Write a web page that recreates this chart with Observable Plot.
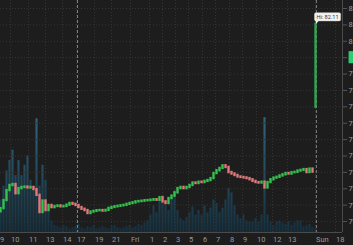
<!DOCTYPE html>
<html>
<head>
<meta charset="utf-8">
<script src="https://cdn.jsdelivr.net/npm/d3@7"></script>
<script src="https://cdn.jsdelivr.net/npm/@observablehq/plot@0.6"></script>
<style>
  html, body { margin: 0; padding: 0; background: #1d1d1d; }
  #chart { position: relative; width: 353px; height: 245px; overflow: hidden; background: #1d1d1d; }
  #chart svg { position: absolute; left: 0; top: 0; }
</style>
</head>
<body>
<div id="chart"></div>
<script>
// ---- data ----
const firstOpen = 70.6;
const closes = [
  70.79, 71.28, 71.89, 72.20, 72.26, 71.70, 72.01, 72.08, 72.10, 72.05,
  72.08, 71.95, 71.60, 70.55, 71.25, 70.67, 70.98, 70.85, 70.92, 70.95,
  70.90, 70.92, 71.00, 71.10, 71.05, 70.98, 70.85, 70.75, 70.67, 70.49,
  70.58, 70.62, 70.66, 70.67, 70.64, 70.68, 70.80, 70.86, 70.90, 70.93,
  70.96, 70.99, 71.05, 71.10, 71.14, 71.20, 71.22, 71.24, 71.27, 71.28,
  71.30, 71.33, 71.30, 71.45, 71.20, 71.10, 71.40, 71.55, 71.75, 72.01,
  72.08, 72.01, 72.08, 72.20, 72.35, 72.32, 72.40, 72.38, 72.45, 72.50,
  72.62, 72.93, 73.10, 73.24, 73.40, 73.30, 72.99, 72.90, 72.81, 72.72,
  72.69, 72.66, 72.62, 72.55, 72.45, 72.38, 72.35, 72.40, 72.05, 72.38,
  72.55, 72.65, 72.70, 72.78, 72.85, 72.93, 72.90, 72.98, 73.00, 73.08,
  73.12, 73.17, 72.99, 73.20, 73.02
];
const sundayOpen = 76.9;
const sundayHigh = 82.11;
const volumes = [
  28, 40, 53, 62, 71, 49, 62, 49, 58, 66, 45, 36, 98, 40, 58, 45, 23, 10,
  6, 5, 4, 6, 5, 3, 4, 5, 7, 4, 3, 5, 4, 6, 3, 4, 5, 4, 3, 5, 6, 4, 3, 4, 5, 6, 4, 5, 7, 6, 8, 10,
  15, 23, 17, 28, 32, 23, 19, 28, 36, 19,
  12, 10, 13, 17, 22, 15, 19, 15, 23, 17,
  21, 28, 25, 17, 21, 28, 38, 34, 23, 15,
  12, 15, 10, 9, 9, 12, 9, 15, 99, 15,
  9, 6, 9, 10, 8, 7, 9, 6, 8, 10,
  10, 5, 6, 7, 4, 3
];
const tickBars   = [-0.33, 3.33, 9.33, 15, 20.67, 25.33, 31.33, 37, 43.33, 49.67, 54, 58.33, 62.67, 67.33, 71.67, 76.33, 80.67, 85.33, 90.67, 95.67, 105, 111.67];
const tickLabels = ["9", "10", "11", "13", "14", "17", "19", "21", "Fri", "1", "2", "3", "5", "6", "7", "8", "9", "10", "12", "13", "Sun", "18"];
const priceTicks = [70, 71, 72, 73, 74, 75, 76, 77, 78, 79, 80, 81, 82, 83];
const sessionBreaks = [25.67, 105.3];
const lastPrice = 80.0;

// ---- derived tables ----
const candles = closes.map((c, i) => ({ i, open: i === 0 ? firstOpen : closes[i - 1], close: c }));
const bigBar = { i: closes.length, open: sundayOpen, close: sundayHigh };
const vol = volumes.map((v, i) => ({ i, v }));
const labelMap = new Map(tickBars.map((t, k) => [t, tickLabels[k]]));

const W = 353, H = 245;
const margins = { marginLeft: 0, marginRight: 11, marginTop: 0, marginBottom: 13 };
const xDomain = [0, 114];
const yDomain = [69.33, 83.49];
const GREEN = "#35c24f", RED = "#e07a7a";
const font = "Roboto, 'DejaVu Sans', sans-serif";

// volume layer (underneath)
const volPlot = Plot.plot({
  width: W, height: H, ...margins,
  style: { background: "transparent", fontFamily: font },
  x: { domain: xDomain, axis: null, label: null },
  y: { domain: [0, 200], axis: null, label: null },
  marks: [
    Plot.ruleX(vol, { x: "i", y1: 0, y2: "v", stroke: "#2a6a86", strokeWidth: 2.1 })
  ]
});
const ns = "http://www.w3.org/2000/svg";
const defs = document.createElementNS(ns, "defs");
defs.innerHTML = '<linearGradient id="vg" gradientUnits="userSpaceOnUse" x1="0" y1="110" x2="0" y2="232">' +
  '<stop offset="0" stop-color="#30687f"/><stop offset="1" stop-color="#15303f"/></linearGradient>';
volPlot.insertBefore(defs, volPlot.firstChild);
volPlot.querySelectorAll('g[aria-label="rule"]').forEach(g => g.setAttribute("stroke", "url(#vg)"));

// price layer
const marks = [
  Plot.gridY(priceTicks, { stroke: "#343434", strokeOpacity: 1, strokeDasharray: "1,2" }),
  Plot.gridX(tickBars, { stroke: "#343434", strokeOpacity: 1, strokeDasharray: "1,2" }),
  Plot.ruleX(sessionBreaks, { stroke: "#808080", strokeDasharray: "3,2", strokeWidth: 1 }),
  Plot.ruleY([yDomain[0]], { stroke: "#4a4a4a" }),
  Plot.ruleX([xDomain[1]], { stroke: "#4a4a4a" }),
  Plot.ruleX(candles, {
    x: "i", y1: "open", y2: "close",
    stroke: d => d.close >= d.open ? GREEN : RED,
    strokeWidth: 2.4, strokeLinecap: "square"
  }),
  Plot.ruleX([bigBar], { x: "i", y1: "open", y2: "close", stroke: "#2fa552", strokeWidth: 2.4 }),
  Plot.axisY(priceTicks, {
    anchor: "right", tickSize: 4, tickPadding: 2, fontSize: 7.5, label: null,
    tickFormat: d3.format(".2f"), stroke: "#555", fill: "#9a9a9a"
  }),
  Plot.axisX(tickBars, {
    anchor: "bottom", tickSize: 0, tickPadding: 4, fontSize: 7.5, textAnchor: "start", dx: 0.5, label: null,
    tickFormat: d => labelMap.get(d), fill: "#9a9a9a"
  }),
  Plot.rect([lastPrice], {
    x1: () => xDomain[1] + 2.2, x2: () => xDomain[1] + 5,
    y1: d => d - 0.37, y2: d => d + 0.37, fill: "#2ecc71"
  }),
  Plot.text([bigBar], {
    x: "i", y: "close", text: d => "Hi: " + d.close.toFixed(2),
    dx: 1, dy: -6, textAnchor: "start", fontSize: 5.6, fill: "#333"
  })
];

const pricePlot = Plot.plot({
  width: W, height: H, ...margins,
  style: { background: "transparent", fontFamily: font, color: "#9a9a9a", overflow: "visible" },
  x: { domain: xDomain, label: null },
  y: { domain: yDomain, label: null },
  marks
});

const chart = document.getElementById("chart");
chart.appendChild(volPlot);
chart.appendChild(pricePlot);

// white call-out box behind the "Hi" label (same transform as the text)
const hiText = Array.from(pricePlot.querySelectorAll("text")).find(t => t.textContent.startsWith("Hi:"));
if (hiText) {
  const bb = hiText.getBBox();
  const tf = hiText.getAttribute("transform") || "";
  const left = bb.x - 2, top = bb.y - 1.2, w = bb.width + 4, h = bb.height + 2.2;
  const box = document.createElementNS(ns, "rect");
  box.setAttribute("transform", tf);
  box.setAttribute("x", left); box.setAttribute("y", top);
  box.setAttribute("width", w); box.setAttribute("height", h);
  box.setAttribute("rx", 1.5);
  box.setAttribute("fill", "#f2f2f2"); box.setAttribute("stroke", "#c8c8c8"); box.setAttribute("stroke-width", 0.5);
  const ptr = document.createElementNS(ns, "path");
  ptr.setAttribute("transform", tf);
  const b = top + h;
  ptr.setAttribute("d", `M${left + 1.2},${b - 0.3} L${left + 4.5},${b - 0.3} L${left + 1.5},${b + 3} Z`);
  ptr.setAttribute("fill", "#f2f2f2");
  hiText.parentNode.insertBefore(box, hiText);
  hiText.parentNode.insertBefore(ptr, hiText);
}
</script>
</body>
</html>
